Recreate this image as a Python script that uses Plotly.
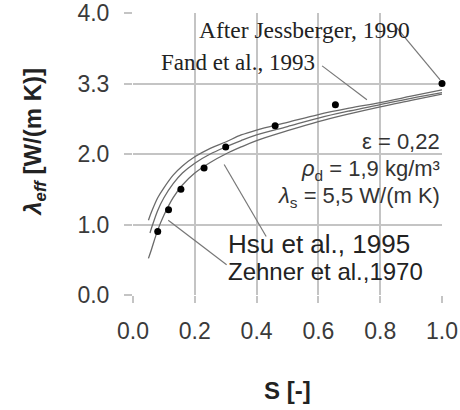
import plotly.graph_objects as go

# Measured data (after Jessberger, 1990)
s_meas = [0.08, 0.115, 0.155, 0.23, 0.30, 0.46, 0.655, 1.0]
lam_meas = [0.90, 1.21, 1.50, 1.80, 2.10, 2.40, 2.70, 3.00]

# Model curves
s_fand = [0.05, 0.06, 0.08, 0.10, 0.13, 0.16, 0.20, 0.25, 0.30, 0.35, 0.40, 0.50, 0.60, 0.70, 0.80, 0.90, 1.00]
lam_fand = [1.06, 1.18, 1.38, 1.52, 1.70, 1.83, 1.96, 2.08, 2.17, 2.27, 2.34, 2.45, 2.56, 2.65, 2.73, 2.82, 2.91]

s_hsu = [0.055, 0.06, 0.08, 0.10, 0.13, 0.16, 0.20, 0.25, 0.30, 0.35, 0.40, 0.50, 0.60, 0.70, 0.80, 0.90, 1.00]
lam_hsu = [0.88, 0.95, 1.20, 1.38, 1.58, 1.73, 1.87, 2.00, 2.10, 2.19, 2.27, 2.39, 2.51, 2.61, 2.70, 2.79, 2.87]

s_zehner = [0.05, 0.06, 0.08, 0.10, 0.13, 0.16, 0.20, 0.25, 0.30, 0.35, 0.40, 0.50, 0.60, 0.70, 0.80, 0.90, 1.00]
lam_zehner = [0.52, 0.65, 0.92, 1.13, 1.38, 1.56, 1.73, 1.88, 2.00, 2.10, 2.19, 2.33, 2.46, 2.57, 2.67, 2.76, 2.85]

x_tickvals = [0.0, 0.2, 0.4, 0.6, 0.8, 1.0]
x_ticktext = ["0.0", "0.2", "0.4", "0.6", "0.8", "1.0"]
y_tickvals = [0, 1, 2, 3, 4]
y_ticktext = ["0.0", "1.0", "2.0", "3.3", "4.0"]

SANS = "Liberation Sans, Arial, sans-serif"
SERIF = "Liberation Serif, Times New Roman, serif"

fig = go.Figure()
curve_style = dict(color="#6a6a6a", width=1.3)
fig.add_trace(go.Scatter(x=s_fand, y=lam_fand, mode="lines", line=curve_style, line_shape="spline", showlegend=False))
fig.add_trace(go.Scatter(x=s_hsu, y=lam_hsu, mode="lines", line=curve_style, line_shape="spline", showlegend=False))
fig.add_trace(go.Scatter(x=s_zehner, y=lam_zehner, mode="lines", line=curve_style, line_shape="spline", showlegend=False))
fig.add_trace(go.Scatter(x=s_meas, y=lam_meas, mode="markers",
                         marker=dict(color="black", size=7), showlegend=False, cliponaxis=False))

# leader lines: (x0, y0, x1, y1) in data units
leaders = [
    (0.854, 3.79, 0.994, 3.05),
    (0.612, 3.25, 0.757, 2.77),
    (0.431, 0.83, 0.295, 1.85),
    (0.303, 0.43, 0.114, 1.06),
]
for x0, y0, x1, y1 in leaders:
    fig.add_shape(type="line", xref="x", yref="y", x0=x0, y0=y0, x1=x1, y1=y1,
                  line=dict(color="#777777", width=1.2))

ann = []
ann.append(dict(x=0.555, y=3.76, text="After Jessberger, 1990", font=dict(family=SERIF, size=23.5, color="#222")))
ann.append(dict(x=0.34, y=3.30, text="Fand et al., 1993", font=dict(family=SERIF, size=23, color="#222")))
ann.append(dict(x=1.0, y=2.18, xanchor="right", text="ε = 0,22", font=dict(family=SANS, size=22, color="#333")))
ann.append(dict(x=1.0, y=1.78, xanchor="right", text="<i>ρ</i><sub>d</sub> = 1,9 kg/m³", font=dict(family=SANS, size=22, color="#333")))
ann.append(dict(x=1.0, y=1.39, xanchor="right", text="<i>λ</i><sub>s</sub> = 5,5 W/(m K)", font=dict(family=SANS, size=22, color="#333")))
ann.append(dict(x=0.30, y=0.72, xanchor="left", text="Hsu et al., 1995", font=dict(family=SANS, size=26, color="#222")))
ann.append(dict(x=0.30, y=0.33, xanchor="left", text="Zehner et al.,1970", font=dict(family=SANS, size=24, color="#222")))
for a in ann:
    a.setdefault("xanchor", "center")
    a.update(xref="x", yref="y", showarrow=False, yanchor="middle")

# axis titles
ann.append(dict(xref="paper", yref="paper", x=-0.317, y=0.54, showarrow=False, textangle=-90,
                xanchor="center", yanchor="middle",
                text="<b><i>λ</i><sub><i>eff</i></sub> [W/(m K)]</b>",
                font=dict(family=SANS, size=24, color="#222")))
ann.append(dict(xref="paper", yref="paper", x=0.5, y=-0.34, showarrow=False,
                xanchor="center", yanchor="middle",
                text="<b>S [-]</b>", font=dict(family=SANS, size=24, color="#222")))

fig.update_layout(
    width=460, height=410,
    margin=dict(l=133, r=18, t=13, b=115),
    paper_bgcolor="white", plot_bgcolor="white",
    annotations=ann,
    showlegend=False,
)
fig.update_xaxes(range=[0, 1.0], tickvals=x_tickvals, ticktext=x_ticktext, automargin=False,
                 showgrid=True, gridcolor="#c4c4c4", gridwidth=1.5,
                 zeroline=False, showline=False,
                 ticks="outside", ticklen=7, tickcolor="#c4c4c4", tickwidth=1.5,
                 ticklabelstandoff=8, ticklabeloverflow="allow",
                 tickfont=dict(family=SANS, size=23, color="#3a3a3a"))
fig.update_yaxes(range=[0, 4.0], tickvals=y_tickvals, ticktext=y_ticktext, automargin=False,
                 showgrid=True, gridcolor="#c4c4c4", gridwidth=1.5,
                 zeroline=False, showline=False,
                 ticks="outside", ticklen=8, tickcolor="#c4c4c4", tickwidth=1.5,
                 ticklabelstandoff=10, ticklabeloverflow="allow",
                 tickfont=dict(family=SANS, size=23, color="#3a3a3a"))

# remove the default page margin so the 460x410 figure fills the window exactly
fig.write_html("out.html",
               config={"displayModeBar": False},
               post_script="document.body.style.margin='0';document.body.style.overflow='hidden';")
